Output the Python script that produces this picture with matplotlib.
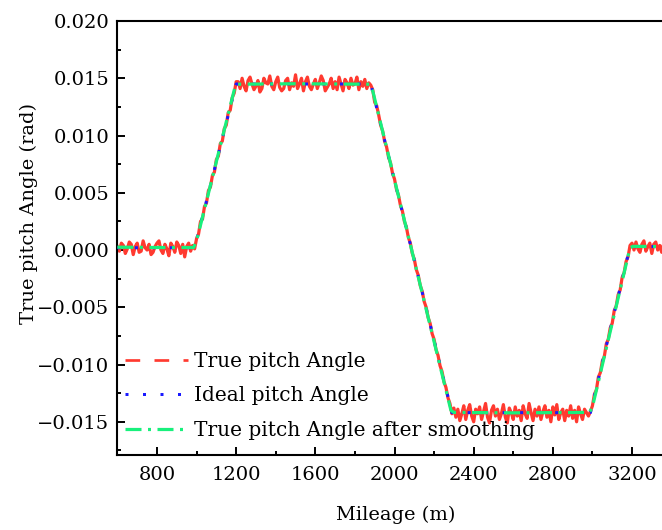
import numpy as np
import matplotlib
matplotlib.use("Agg")
import matplotlib.pyplot as plt
from matplotlib.lines import Line2D
from matplotlib.ticker import MultipleLocator, FuncFormatter

plt.rcParams['font.family'] = ['DejaVu Serif']
plt.rcParams['font.size'] = 14
plt.rcParams['lines.scale_dashes'] = False

# ---- data ----
mileage_step = 10
mileage_start = 600
mileage_end = 3400

# true (measured) pitch angle, units of 1e-4 rad, every 10 m from 600 m to 3400 m
true_pitch_e4 = [
    # 600 - 980
    3, -1, 6, 4, -3, 1, 7, 5, -4, 3, 6, -2, -1, 8, 2, 0, 5, -4, -2, 3,
    6, 8, 0, -3, 5, 1, -5, 6, 3, -2, 7, 4, -3, 5, -6, 3, 6, -1, 4,
    # 990 - 1200 (ramp up)
    1, 10, 14, 25, 27, 38, 41, 52, 55, 65, 68, 79, 82, 93, 95, 106, 109, 120, 122, 133, 137, 147,
    # 1210 - 1870
    147, 141, 150, 143, 139, 148, 151, 145, 140, 143,
    148, 138, 141, 150, 146, 145, 152, 143, 140, 147,
    151, 142, 139, 141, 148, 150, 140, 146, 143, 153,
    141, 145, 150, 139, 147, 151, 143, 140, 145, 149,
    141, 146, 152, 148, 139, 142, 145, 150, 141, 147,
    140, 151, 145, 139, 149, 146, 141, 150, 144, 145,
    151, 140, 147, 143, 149, 141, 146,
    # 1880 - 2290 (ramp down)
    144, 140, 129, 126, 118, 109, 104, 95, 90, 81, 76, 67, 62, 53, 48, 39, 34, 25, 20, 11, 6,
    -3, -8, -17, -22, -31, -36, -45, -50, -59, -64, -73, -78, -87, -92, -101, -106, -115, -120,
    -129, -134, -143,
    # 2300 - 2980
    -138, -146, -139, -149, -143, -136, -148, -140, -135, -145,
    -150, -139, -143, -137, -148, -141, -134, -146, -151, -140,
    -136, -145, -139, -148, -143, -135, -146, -151, -138, -142,
    -148, -137, -145, -140, -149, -136, -143, -147, -134, -142,
    -149, -139, -145, -137, -148, -141, -136, -146, -140, -150,
    -137, -144, -135, -148, -142, -139, -149, -140, -145, -136,
    -147, -140, -150, -137, -143, -148, -139, -142, -145,
    # 2990 - 3190 (ramp up)
    -141, -136, -126, -122, -111, -107, -97, -93, -82, -78, -68, -64, -53, -49, -39, -35, -24,
    -20, -10, -6, 4,
    # 3200 - 3400
    6, 0, 7, 1, -2, 5, 8, -1, 3, 6, -3, 5, 7, 0, 4, -2, 6, 2, 8, -1, 5,
]

# ideal pitch angle (piecewise linear profile)
ideal_x = [600, 990, 1200, 1880, 2290, 2990, 3190, 3400]
ideal_y = [0.0002, 0.0002, 0.0145, 0.0145, -0.0142, -0.0142, 0.0003, 0.0003]

# true pitch angle after smoothing
smooth_x = [600, 800, 985, 1000, 1195, 1210, 1500, 1875, 1890, 2285, 2300, 2600, 2985, 3000,
            3190, 3205, 3400]
smooth_y = [0.00025, 0.00022, 0.00022, 0.0008, 0.0143, 0.01448, 0.01452, 0.01448, 0.0139,
            -0.0140, -0.01418, -0.01422, -0.01418, -0.0137, 0.0002, 0.00032, 0.0003]

labels = ["True pitch Angle", "Ideal pitch Angle", "True pitch Angle after smoothing"]
x_ticks = [800, 1200, 1600, 2000, 2400, 2800, 3200]
y_ticks = [-0.015, -0.010, -0.005, 0.000, 0.005, 0.010, 0.015, 0.020]

RED = '#FF3A30'
BLUE = '#1A1AFF'
GREEN = '#18F07C'

true_x = np.arange(mileage_start, mileage_end + 1, mileage_step)
true_y = np.array(true_pitch_e4) * 1e-4

fig = plt.figure(figsize=(6.62, 5.30), dpi=100)
W, H = 662, 530
ax_left, ax_right, ax_top, ax_bottom = 117.4, 671.6, 21.0, 455.0
ax = fig.add_axes([ax_left / W, (H - ax_bottom) / H, (ax_right - ax_left) / W,
                   (ax_bottom - ax_top) / H])

px = 0.72  # points per pixel at 100 dpi
ax.plot(true_x, true_y, color=RED, lw=3.2 * px, zorder=2)
ax.plot(ideal_x, ideal_y, color=BLUE, lw=3.0 * px, dashes=(3.0 * px, 14.5 * px), zorder=3)
ax.plot(smooth_x, smooth_y, color=GREEN, lw=3.2 * px,
        dashes=(16 * px, 6.5 * px, 3 * px, 6.5 * px), zorder=4)

ax.set_xlim(600, 3400)
ax.set_ylim(-0.0179, 0.020)
ax.set_xticks(x_ticks)
ax.set_yticks(y_ticks)
ax.xaxis.set_minor_locator(MultipleLocator(200))
ax.yaxis.set_minor_locator(MultipleLocator(0.0025))
ax.yaxis.set_major_formatter(FuncFormatter(
    lambda v, p: ('\u2212' if v < -1e-12 else '') + f"{abs(v):.3f}"))

ax.tick_params(which='major', direction='in', length=5.8, width=1.4, pad=6)
ax.tick_params(which='minor', direction='in', length=3.0, width=1.4)
ax.tick_params(axis='x', which='major', pad=8)
ax.tick_params(top=False, right=False, which='both')
for s in ['left', 'bottom', 'top']:
    ax.spines[s].set_linewidth(1.5)
ax.spines['right'].set_visible(False)

ax.set_xlabel("Mileage (m)")
ax.set_ylabel("True pitch Angle (rad)")
ax.xaxis.set_label_coords((396 - ax_left) / (ax_right - ax_left),
                          (ax_bottom - 506) / (ax_bottom - ax_top))
ax.yaxis.set_label_coords((38.5 - ax_left) / (ax_right - ax_left),
                          (ax_bottom - 213) / (ax_bottom - ax_top))

handles = [
    Line2D([], [], color=RED, lw=2.7 * px, dashes=(14.7 * px, 14.3 * px)),
    Line2D([], [], color=BLUE, lw=3.0 * px, dashes=(3.0 * px, 14.5 * px)),
    Line2D([], [], color=GREEN, lw=3.2 * px, dashes=(16 * px, 6.5 * px, 3 * px, 6.5 * px)),
]
ax.legend(handles, labels, loc='lower left', frameon=False,
          bbox_to_anchor=((125 - ax_left) / (ax_right - ax_left),
                          (ax_bottom - 440) / (ax_bottom - ax_top)),
          borderpad=0, borderaxespad=0, handlelength=3.15, handletextpad=0.3,
          labelspacing=0.78, fontsize=14.5)

fig.savefig("out.png", dpi=100)
